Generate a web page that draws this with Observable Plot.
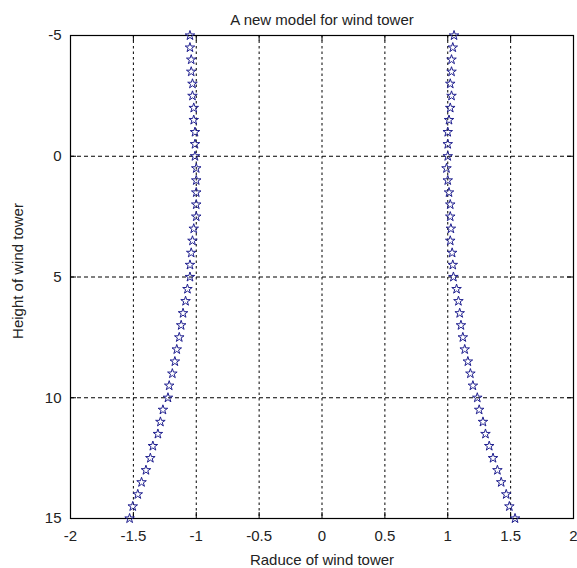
<!DOCTYPE html>
<html><head><meta charset="utf-8">
<script src="https://cdn.jsdelivr.net/npm/d3@7"></script>
<script src="https://cdn.jsdelivr.net/npm/@observablehq/plot@0.6"></script>
<style>body{margin:0;background:#fff}</style>
</head><body><div id="chart"></div>
<script>
const heights = [-5, -4.5, -4, -3.5, -3, -2.5, -2, -1.5, -1, -0.5, 0, 0.5, 1, 1.5, 2, 2.5, 3, 3.5, 4, 4.5, 5, 5.5, 6, 6.5, 7, 7.5, 8, 8.5, 9, 9.5, 10, 10.5, 11, 11.5, 12, 12.5, 13, 13.5, 14, 14.5, 15];
const leftRadius = [-1.05, -1.05, -1.04, -1.04, -1.03, -1.03, -1.02, -1.02, -1.01, -1.01, -1.01, -1.0, -1.0, -1.0, -1.0, -1.0, -1.02, -1.03, -1.04, -1.05, -1.05, -1.07, -1.085, -1.105, -1.12, -1.135, -1.155, -1.17, -1.19, -1.215, -1.225, -1.265, -1.285, -1.305, -1.345, -1.365, -1.4, -1.435, -1.465, -1.505, -1.53];
const rightRadius = [1.05, 1.04, 1.03, 1.03, 1.02, 1.03, 1.02, 1.01, 1.0, 1.0, 1.0, 0.99, 1.0, 1.01, 1.02, 1.02, 1.025, 1.02, 1.035, 1.04, 1.045, 1.07, 1.085, 1.095, 1.105, 1.12, 1.135, 1.16, 1.18, 1.2, 1.235, 1.25, 1.28, 1.3, 1.33, 1.36, 1.395, 1.425, 1.465, 1.49, 1.535];
const xTicks = [-2, -1.5, -1, -0.5, 0, 0.5, 1, 1.5, 2];
const yTicks = [-5, 0, 5, 10, 15];
const xGrid = [-1.5, -1, -0.5, 0, 0.5, 1, 1.5];
const yGrid = [0, 5, 10];
const title = "A new model for wind tower";
const xLabel = "Raduce of wind tower";
const yLabel = "Height of wind tower";

const points = heights.flatMap((h, i) => [{x: leftRadius[i], y: h}, {x: rightRadius[i], y: h}]);

const W = 577, H = 568, mt = 35, mb = 50, ml = 70, mr = 4;
const fh = H - mt - mb, fw = W - ml - mr;
const font = "'Liberation Sans', Arial, sans-serif";

const chart = Plot.plot({
  width: W, height: H,
  marginTop: mt, marginBottom: mb, marginLeft: ml, marginRight: mr,
  style: {fontFamily: font, fontSize: "15px", color: "#222", background: "#fff"},
  x: {domain: [-2, 2], label: null},
  y: {domain: [-5, 15], reverse: true, label: null},
  marks: [
    Plot.ruleX(xGrid, {stroke: "#000", strokeDasharray: "2.5,3", strokeWidth: 1}),
    Plot.ruleY(yGrid, {stroke: "#000", strokeDasharray: "4,3", strokeWidth: 1}),
    Plot.ruleX(xTicks, {stroke: "#000", insetTop: fh - 6}),
    Plot.ruleX(xTicks, {stroke: "#000", insetBottom: fh - 6}),
    Plot.ruleY(yTicks, {stroke: "#000", insetRight: fw - 6}),
    Plot.ruleY(yTicks, {stroke: "#000", insetLeft: fw - 6}),
    Plot.frame({stroke: "#000", strokeWidth: 1.2}),
    Plot.axisX({ticks: xTicks, tickSize: 0, tickPadding: 12, tickFormat: d => String(d), label: null, fontSize: 15}),
    Plot.axisY({ticks: yTicks, tickSize: 0, tickPadding: 9, tickFormat: d => String(d), label: null, fontSize: 15}),
    Plot.dot(points, {x: "x", y: "y", symbol: "star", r: 3, stroke: "#1f1f8f", fill: "none", strokeWidth: 1}),
    Plot.text([title], {frameAnchor: "top", dy: -15, lineAnchor: "middle", text: d => d, fontSize: 15, fill: "#222"}),
    Plot.text([xLabel], {frameAnchor: "bottom", dy: 42, lineAnchor: "middle", text: d => d, fontSize: 15, fill: "#222"}),
    Plot.text([yLabel], {frameAnchor: "left", dx: -52, dy: -6, rotate: -90, textAnchor: "middle", lineAnchor: "middle", text: d => d, fontSize: 15, fill: "#222"})
  ]
});
document.getElementById("chart").appendChild(chart);
</script>
</body></html>
